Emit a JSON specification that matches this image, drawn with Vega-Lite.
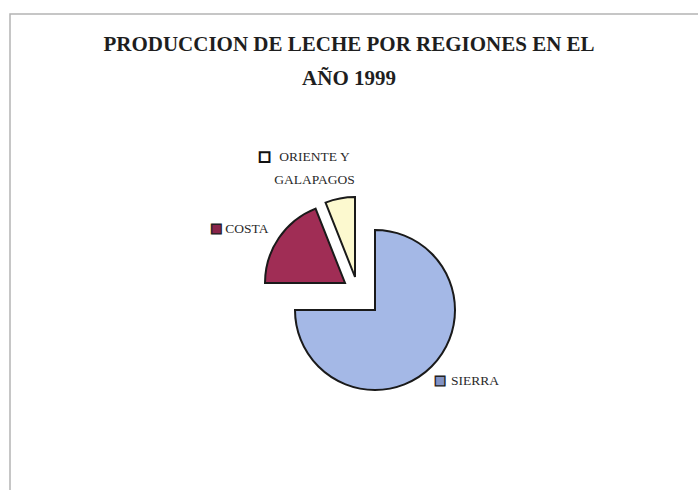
{
  "$schema": "https://vega.github.io/schema/vega-lite/v6.json",
  "width": 690,
  "height": 478,
  "autosize": {"type": "none"},
  "padding": {"left": 10, "top": 14, "right": -2, "bottom": -2},
  "background": "white",
  "view": {"stroke": "#b4b4b4", "strokeWidth": 1.5, "fill": "white"},
  "config": {"font": "Liberation Serif"},
  "title": {
    "text": ["PRODUCCION DE LECHE POR REGIONES EN EL", "AÑO 1999"],
    "font": "Liberation Serif",
    "fontSize": 21,
    "fontWeight": "bold",
    "color": "#1e1e1e",
    "lineHeight": 34,
    "anchor": "middle",
    "frame": "group",
    "offset": -75,
    "dx": -6
  },
  "data": {
    "values": [
      {"region": "SIERRA", "value": 75, "order": 1},
      {"region": "COSTA", "value": 19, "order": 2},
      {"region": "ORIENTE Y GALAPAGOS", "value": 6, "order": 3}
    ]
  },
  "transform": [
    {"stack": "value", "groupby": [], "sort": [{"field": "order", "order": "ascending"}], "as": ["v0", "v1"]}
  ],
  "layer": [
    {
      "transform": [{"filter": "datum.region === 'SIERRA'"}],
      "mark": {"type": "arc", "radius": 80, "xOffset": 20, "yOffset": 57, "fill": "#a4b8e6", "stroke": "#1a1a1a", "strokeWidth": 2},
      "encoding": {
        "theta": {"field": "v0", "type": "quantitative", "scale": {"domain": [0, 100]}},
        "theta2": {"field": "v1"}
      }
    },
    {
      "transform": [{"filter": "datum.region === 'COSTA'"}],
      "mark": {"type": "arc", "radius": 80, "xOffset": -10, "yOffset": 30, "fill": "#a02d55", "stroke": "#1a1a1a", "strokeWidth": 2},
      "encoding": {
        "theta": {"field": "v0", "type": "quantitative", "scale": {"domain": [0, 100]}},
        "theta2": {"field": "v1"}
      }
    },
    {
      "transform": [{"filter": "datum.region === 'ORIENTE Y GALAPAGOS'"}],
      "mark": {"type": "arc", "radius": 80, "xOffset": 0, "yOffset": 24, "fill": "#fcf9cf", "stroke": "#1a1a1a", "strokeWidth": 2},
      "encoding": {
        "theta": {"field": "v0", "type": "quantitative", "scale": {"domain": [0, 100]}},
        "theta2": {"field": "v1"}
      }
    },
    {
      "mark": {"type": "text", "font": "Liberation Sans", "fontSize": 20, "radius": 92, "xOffset": 20, "yOffset": 57, "dy": 6, "align": "center", "baseline": "middle", "fill": "#8393c4", "stroke": "#222222", "strokeWidth": 1.3},
      "encoding": {
        "theta": {"field": "value", "type": "quantitative", "stack": true, "scale": {"domain": [0, 100]}},
        "order": {"field": "order"},
        "detail": {"field": "region"},
        "text": {"condition": {"test": "datum.region === 'SIERRA'", "value": "■"}, "value": ""}
      }
    },
    {
      "mark": {"type": "text", "fontSize": 13.5, "radius": 92, "xOffset": 20, "yOffset": 57, "dx": 11, "dy": 6, "align": "left", "baseline": "middle", "fill": "#2a2a2a"},
      "encoding": {
        "theta": {"field": "value", "type": "quantitative", "stack": true, "scale": {"domain": [0, 100]}},
        "order": {"field": "order"},
        "detail": {"field": "region"},
        "text": {"condition": {"test": "datum.region === 'SIERRA'", "value": "SIERRA"}, "value": ""}
      }
    },
    {
      "mark": {"type": "text", "font": "Liberation Sans", "fontSize": 20, "radius": 100, "xOffset": -10, "yOffset": 30, "dx": -46, "dy": 2, "align": "center", "baseline": "middle", "fill": "#8a2448", "stroke": "#222222", "strokeWidth": 1.3},
      "encoding": {
        "theta": {"field": "value", "type": "quantitative", "stack": true, "scale": {"domain": [0, 100]}},
        "order": {"field": "order"},
        "detail": {"field": "region"},
        "text": {"condition": {"test": "datum.region === 'COSTA'", "value": "■"}, "value": ""}
      }
    },
    {
      "mark": {"type": "text", "fontSize": 13.5, "radius": 100, "xOffset": -10, "yOffset": 30, "dx": -37, "dy": 2, "align": "left", "baseline": "middle", "fill": "#2a2a2a"},
      "encoding": {
        "theta": {"field": "value", "type": "quantitative", "stack": true, "scale": {"domain": [0, 100]}},
        "order": {"field": "order"},
        "detail": {"field": "region"},
        "text": {"condition": {"test": "datum.region === 'COSTA'", "value": "COSTA"}, "value": ""}
      }
    },
    {
      "mark": {"type": "text", "font": "Liberation Sans", "fontSize": 20, "radius": 120, "xOffset": 0, "yOffset": 24, "dx": -68, "dy": -2, "align": "center", "baseline": "middle", "fill": "#ffffff", "stroke": "#111111", "strokeWidth": 2},
      "encoding": {
        "theta": {"field": "value", "type": "quantitative", "stack": true, "scale": {"domain": [0, 100]}},
        "order": {"field": "order"},
        "detail": {"field": "region"},
        "text": {"condition": {"test": "datum.region === 'ORIENTE Y GALAPAGOS'", "value": "■"}, "value": ""}
      }
    },
    {
      "mark": {"type": "text", "fontSize": 13.5, "radius": 120, "xOffset": 0, "yOffset": 24, "dx": -18, "dy": -2, "align": "center", "baseline": "middle", "lineBreak": "\n", "lineHeight": 23, "fill": "#2a2a2a"},
      "encoding": {
        "theta": {"field": "value", "type": "quantitative", "stack": true, "scale": {"domain": [0, 100]}},
        "order": {"field": "order"},
        "detail": {"field": "region"},
        "text": {"condition": {"test": "datum.region === 'ORIENTE Y GALAPAGOS'", "value": "ORIENTE Y\nGALAPAGOS"}, "value": ""}
      }
    }
  ]
}
